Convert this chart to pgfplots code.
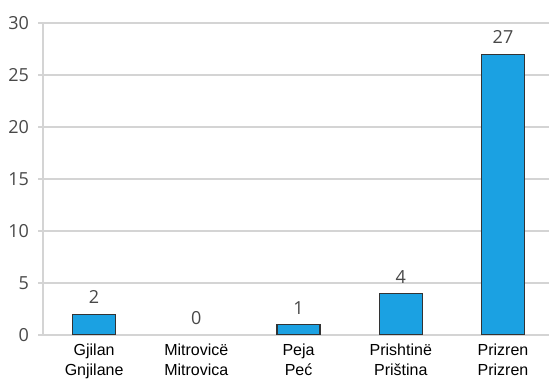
\documentclass[border=0pt]{standalone}
\usepackage{pgfplots}
\pgfplotsset{compat=1.18}
\usetikzlibrary{calc}
\usepackage{fontspec}
\setmainfont{Liberation Sans}
\newfontfamily\numfont{Open Sans}
\definecolor{barblue}{HTML}{1BA1E2}
\definecolor{gridgray}{HTML}{D4D4D4}
\definecolor{numgray}{HTML}{484848}
\begin{document}
\begin{tikzpicture}
\begin{axis}[
  name=ax,
  scale only axis,
  width=253pt, height=156pt,
  xmin=-0.5, xmax=4.45,
  ymin=0, ymax=30,
  ytick={0,5,...,30},
  xtick={0,1,2,3,4},
  xticklabels={{Gjilan\\Gnjilane},{Mitrovicë\\Mitrovica},{Peja\\Peć},{Prishtinë\\Priština},{Prizren\\Prizren}},
  xticklabel style={align=center, font=\fontsize{8}{10}\selectfont, text=black, inner sep=1pt, yshift=-1pt},
  yticklabel style={font=\numfont\fontsize{9}{10}\selectfont, text=numgray, xshift=-1pt},
  /pgf/number format/assume math mode=true,
  axis lines*=left,
  axis line style={draw=gridgray, line width=0.8pt},
  x axis line style={-},
  y axis line style={-},
  ymajorgrids,
  grid style={draw=gridgray, line width=0.8pt},
  major tick length=2.5pt,
  ytick style={draw=gridgray, line width=0.8pt},
  xtick style={draw=none},
  tick align=outside,
  ybar, bar width=21.5pt, bar shift=0pt,
  nodes near coords,
  every node near coord/.append style={font=\numfont\fontsize{9}{10}\selectfont, text=numgray, yshift=1.5pt},
]
\addplot[fill=barblue, draw=black!80, line width=0.6pt] coordinates {(0,2) (2,1) (3,4) (4,27)};
\addplot[fill=none, draw=none] coordinates {(1,0)};
\end{axis}
\pgfresetboundingbox
\path[use as bounding box] ($(ax.south west)+(-21.5pt,-23.5pt)$) rectangle ($(ax.north east)+(0pt,11.5pt)$);
\end{tikzpicture}
\end{document}
